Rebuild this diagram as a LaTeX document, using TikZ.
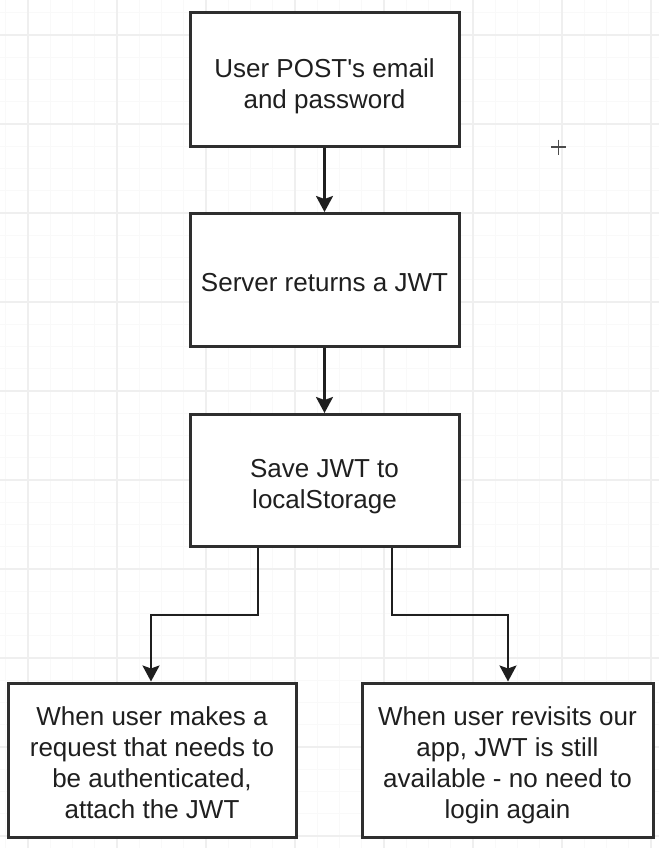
\documentclass[tikz,border=0pt]{standalone}
\usepackage{fontspec}
\setmainfont{Liberation Sans}
\usetikzlibrary{arrows.meta}
\definecolor{gridmaj}{HTML}{EFEFEF}
\definecolor{gridmin}{HTML}{F9F9F9}
\definecolor{boxline}{HTML}{2E2E2E}
\tikzset{
  stepbox/.style={draw=boxline, line width=3pt, fill=white, inner sep=0pt},
  steptext/.style={align=center, font=\fontsize{26}{31}\selectfont, text=black!88, inner sep=0pt},
  conn/.style={draw=black!88, line width=2.4pt, -{Stealth[width=17pt,length=16pt,inset=3pt]}}
}
\begin{document}
\begin{tikzpicture}[x=1pt,y=-1pt]
\useasboundingbox (0,0) rectangle (659,848);
\fill[white] (0,0) rectangle (659,848);
% minor grid
\foreach \i in {-1,...,30} {
  \draw[gridmin, line width=0.8pt] ({28+22.25*\i},0) -- ({28+22.25*\i},848);
}
\foreach \i in {-2,...,37} {
  \draw[gridmin, line width=0.8pt] (0,{35+22.25*\i}) -- (659,{35+22.25*\i});
}
% major grid
\foreach \i in {0,...,7} {
  \draw[gridmaj, line width=1.2pt] ({28+89*\i},0) -- ({28+89*\i},848);
}
\foreach \i in {0,...,9} {
  \draw[gridmaj, line width=1.2pt] (0,{35+89*\i}) -- (659,{35+89*\i});
}
% plus marker
\draw[black!70, line width=1.2pt] (551,147) -- (566,147) (558.5,139.5) -- (558.5,154.5);

\node[stepbox, minimum width=269pt, minimum height=134pt,
  label={[steptext, yshift=-7pt]center:{User POST\textquotesingle s email\\and password}}] (b1) at (324.5,79.5) {};
\node[stepbox, minimum width=269pt, minimum height=133pt,
  label={[steptext, yshift=-3pt]center:{Server returns a JWT}}] (b2) at (324.5,280) {};
\node[stepbox, minimum width=269pt, minimum height=132pt,
  label={[steptext, yshift=-6pt]center:{Save JWT to\\localStorage}}] (b3) at (324.5,480.5) {};
\node[stepbox, minimum width=288pt, minimum height=154pt,
  label={[steptext, yshift=-2.5pt]center:{When user makes a\\request that needs to\\be authenticated,\\attach the JWT}}] (b4) at (152,760) {};
\node[stepbox, minimum width=291pt, minimum height=154pt,
  label={[steptext, yshift=-5pt]center:{When user revisits our\\app, JWT is still\\available - no need to\\login again}}] (b5) at (507.5,760) {};

\coordinate (l1) at (258,615);
\coordinate (l2) at (151,615);
\coordinate (r1) at (392,615);
\coordinate (r2) at (508,615);

\draw[conn] (b1) -- (b2);
\draw[conn] (b2) -- (b3);
\draw[conn] (b3.south -| l1) -- (l1) -- (l2) -- (b4.north -| l2);
\draw[conn] (b3.south -| r1) -- (r1) -- (r2) -- (b5.north -| r2);
\end{tikzpicture}
\end{document}
